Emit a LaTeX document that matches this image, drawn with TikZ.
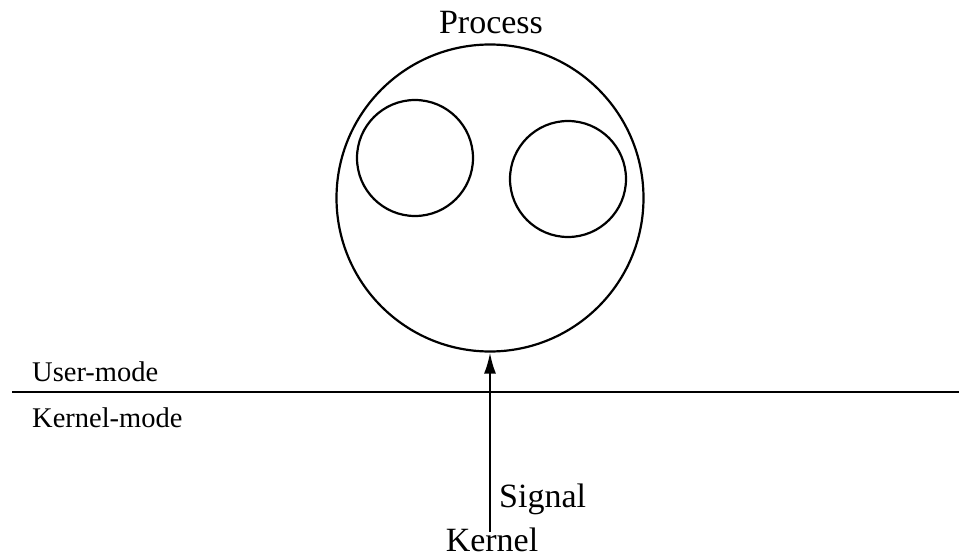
\documentclass[tikz,border=0pt]{standalone}
\usepackage{fontspec}
\setmainfont{Liberation Serif}
\usetikzlibrary{arrows.meta}

\tikzset{
  ring/.style={draw,circle,line width=2.2pt,inner sep=0pt},
  modetext/.style={font=\fontsize{28.5}{31}\selectfont,anchor=base west,inner sep=0pt},
  bigtext/.style={font=\fontsize{34}{37}\selectfont,anchor=base,inner sep=0pt}
}

\begin{document}
\begin{tikzpicture}[x=1pt,y=-1pt]
\useasboundingbox (0,0) rectangle (959,557);
% process with its two threads
\node (proc) [ring,minimum size=307pt] at (490,198) {};
\node (thrA) [ring,minimum size=116pt] at (415,158) {};
\node (thrB) [ring,minimum size=116pt] at (568,179) {};
\node (ptitle) [bigtext] at (491,33) {Process};
% boundary between the two modes
\coordinate (bl) at (12,392);
\coordinate (br) at (959,392);
\draw[line width=2.2pt] (bl)--(br);
\node (umode) [modetext] at (32,381) {User-mode};
\node (kmode) [modetext] at (32,427) {Kernel-mode};
% signal sent up from the kernel
\node (kern) [bigtext] at (492,551) {Kernel};
\node (sig) [bigtext,anchor=base west] at (499,507) {Signal};
\coordinate (sigfoot) at (proc.south |- 0,532);
\draw[line width=2.2pt,-{Latex[length=21pt,width=12pt]}] (sigfoot)--(proc.south);
\end{tikzpicture}
\end{document}
